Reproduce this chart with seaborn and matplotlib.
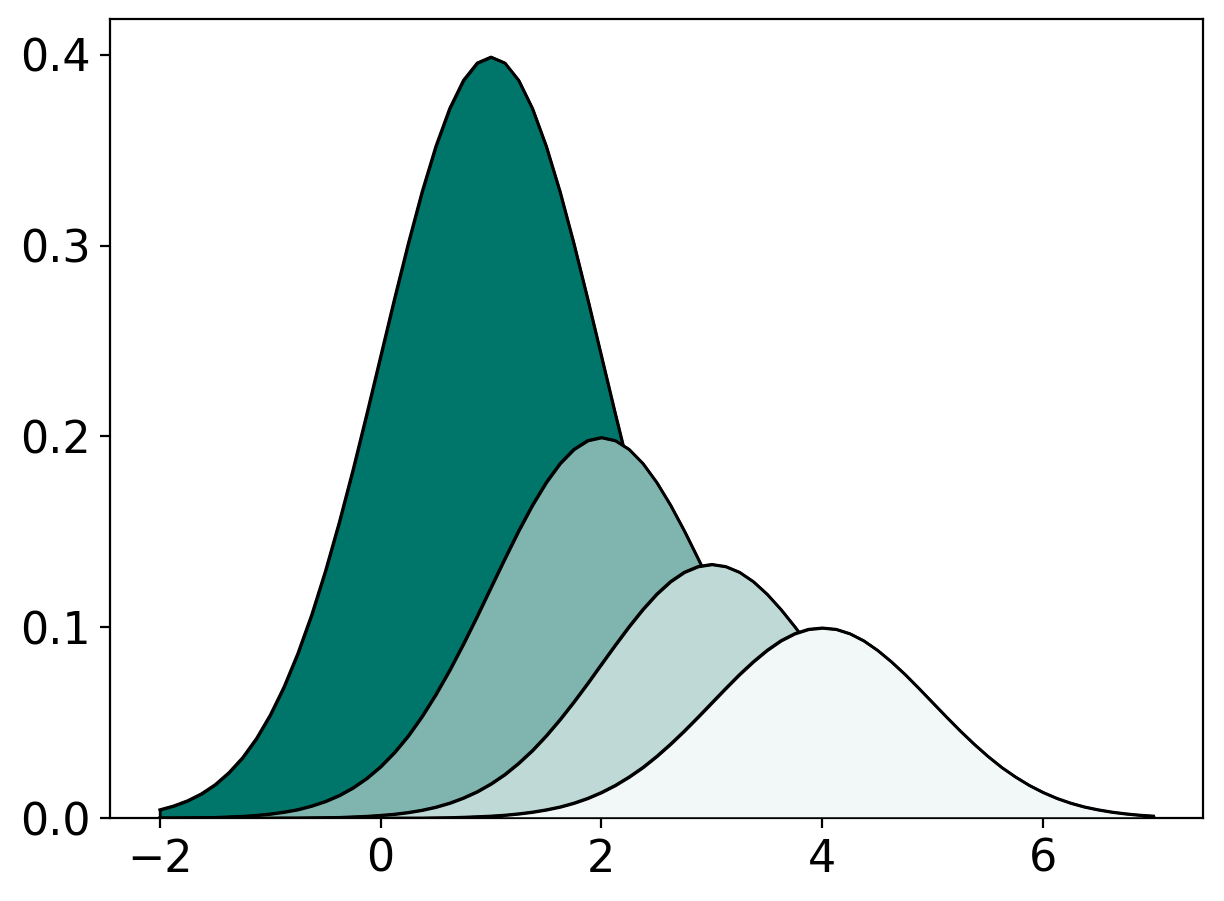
import numpy as np
import matplotlib
matplotlib.use("Agg")
import matplotlib.pyplot as plt
import seaborn as sns

# x grid shared by all curves (-2 to 7, step 0.125)
x = np.linspace(-2, 7, 73)

# curve values
curve1 = [0.0044, 0.0064, 0.0091, 0.0127, 0.0175, 0.0238, 0.0317, 0.0417, 0.0540,
          0.0688, 0.0863, 0.1065, 0.1295, 0.1550, 0.1826, 0.2119, 0.2420, 0.2721,
          0.3011, 0.3282, 0.3521, 0.3719, 0.3867, 0.3958, 0.3989,
          0.3958, 0.3867, 0.3719, 0.3521, 0.3282, 0.3011, 0.2721, 0.2420, 0.2119,
          0.1826, 0.1550, 0.1295, 0.1065, 0.0863, 0.0688, 0.0540, 0.0417, 0.0317,
          0.0238, 0.0175, 0.0127, 0.0091, 0.0064, 0.0044, 0.0030, 0.0020, 0.0013,
          0.0009, 0.0006, 0.0004, 0.0002, 0.0001,
          0, 0, 0, 0, 0, 0, 0, 0, 0, 0, 0, 0, 0, 0, 0, 0]

curve2 = [0.0001, 0.0001, 0.0002, 0.0003, 0.0004, 0.0007, 0.0010, 0.0015, 0.0022,
          0.0032, 0.0045, 0.0064, 0.0088, 0.0119, 0.0159, 0.0209, 0.0270, 0.0344,
          0.0431, 0.0533, 0.0648, 0.0775, 0.0913, 0.1059, 0.1210, 0.1360, 0.1506,
          0.1641, 0.1760, 0.1859, 0.1933, 0.1979, 0.1995,
          0.1979, 0.1933, 0.1859, 0.1760, 0.1641, 0.1506, 0.1360, 0.1210, 0.1059,
          0.0913, 0.0775, 0.0648, 0.0533, 0.0431, 0.0344, 0.0270, 0.0209, 0.0159,
          0.0119, 0.0088, 0.0064, 0.0045, 0.0032, 0.0022, 0.0015, 0.0010, 0.0007,
          0.0004, 0.0003, 0.0002, 0.0001, 0.0001,
          0, 0, 0, 0, 0, 0, 0, 0]

curve3 = [0, 0, 0, 0, 0, 0, 0, 0, 0.0000,
          0.0001, 0.0001, 0.0002, 0.0003, 0.0004, 0.0007, 0.0010, 0.0015, 0.0021,
          0.0030, 0.0042, 0.0058, 0.0079, 0.0106, 0.0139, 0.0180, 0.0229, 0.0288,
          0.0355, 0.0432, 0.0517, 0.0609, 0.0706, 0.0807, 0.0907, 0.1004, 0.1094,
          0.1174, 0.1240, 0.1289, 0.1319, 0.1330,
          0.1319, 0.1289, 0.1240, 0.1174, 0.1094, 0.1004, 0.0907, 0.0807, 0.0706,
          0.0609, 0.0517, 0.0432, 0.0355, 0.0288, 0.0229, 0.0180, 0.0139, 0.0106,
          0.0079, 0.0058, 0.0042, 0.0030, 0.0021, 0.0015, 0.0010, 0.0007, 0.0004,
          0.0003, 0.0002, 0.0001, 0.0001, 0.0000]

curve4 = [0, 0, 0, 0, 0, 0, 0, 0, 0, 0, 0, 0, 0, 0, 0, 0, 0.0000,
          0.0001, 0.0001, 0.0001, 0.0002, 0.0003, 0.0005, 0.0008, 0.0011, 0.0016,
          0.0023, 0.0032, 0.0044, 0.0059, 0.0079, 0.0104, 0.0135, 0.0172, 0.0216,
          0.0266, 0.0324, 0.0388, 0.0457, 0.0530, 0.0605, 0.0680, 0.0753, 0.0820,
          0.0880, 0.0930, 0.0967, 0.0990, 0.0997,
          0.0990, 0.0967, 0.0930, 0.0880, 0.0820, 0.0753, 0.0680, 0.0605, 0.0530,
          0.0457, 0.0388, 0.0324, 0.0266, 0.0216, 0.0172, 0.0135, 0.0104, 0.0079,
          0.0059, 0.0044, 0.0032, 0.0023, 0.0016, 0.0011]

curves = [curve1, curve2, curve3, curve4]
colors = ['#00766a', '#80b5af', '#bfdad6', '#f2f7f7']

fig, ax = plt.subplots(figsize=(6.12, 4.505), dpi=200)
fig.subplots_adjust(left=0.0899, right=0.983, top=0.979, bottom=0.092)

# each curve: filled area then outline, later ones on top
for i, (y, c) in enumerate(zip(curves, colors)):
    ax.fill_between(x, y, color=c, edgecolor='black', linewidth=1, zorder=2 * i + 1)
    sns.lineplot(x=x, y=y, color='black', linewidth=1, ax=ax, zorder=2 * i + 2)

ax.set_ylim(bottom=0)
ax.set_xticks([-2, 0, 2, 4, 6])
ax.set_yticks([0.0, 0.1, 0.2, 0.3, 0.4])
ax.tick_params(labelsize=16)

plt.savefig('out.png', dpi=200)
